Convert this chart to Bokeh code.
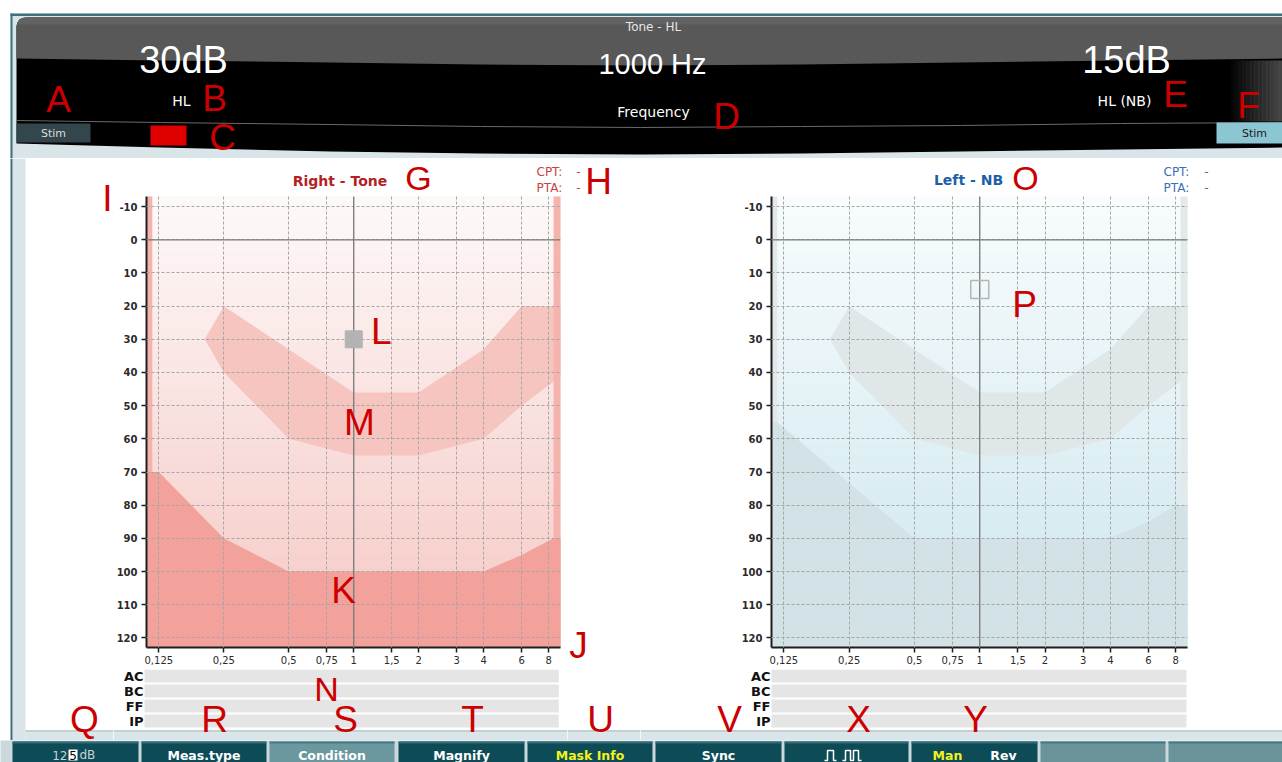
import numpy as np
from bokeh.plotting import figure
from bokeh.models import Range1d, FixedTicker, Span, Label
from bokeh.layouts import row, column
from bokeh.core.properties import value
from bokeh.embed import file_html
from bokeh.resources import INLINE

# ------------------------------------------------------------------ data
freq_ticks = [0.125, 0.25, 0.5, 0.75, 1, 1.5, 2, 3, 4, 6, 8]
freq_tick_labels = ["0,125", "0,25", "0,5", "0,75", "1", "1,5", "2", "3", "4", "6", "8"]
db_ticks = [-10, 0, 10, 20, 30, 40, 50, 60, 70, 80, 90, 100, 110, 120]
db_tick_labels = ["-10", "0", "10", "20", "30", "40", "50", "60", "70", "80", "90", "100", "110", "120"]

right_tone_freq = [1]
right_tone_db = [30]
left_nb_freq = [1]
left_nb_db = [15]

speech_band_freq = [0.204, 0.25, 1, 2, 4, 6, 9.6, 9.6, 6, 4, 2, 1, 0.5, 0.25]
speech_band_db = [30, 20, 46, 46, 33, 20, 20, 40, 50, 60, 65, 65, 60, 40]

right_limit_freq = [0.09, 0.125, 0.25, 0.5, 4, 6, 8.43, 9.6, 9.6, 0.09]
right_limit_db = [70, 70, 90, 100, 100, 95, 90, 90, 130, 130]
left_limit_freq = [0.09, 0.1166, 0.5, 4, 6, 8, 9.6, 9.6, 0.09]
left_limit_db = [55, 55, 90, 90, 85, 80, 80, 130, 130]

low_strip_freq = [0.09, 0.1166]
high_strip_freq = [8.43, 9.6]

level_right_db = 30
tone_freq_hz = 1000
level_left_db = 15

row_labels = ["AC", "BC", "FF", "IP"]
button_labels = ["Meas.type", "Condition", "Magnify", "Mask Info", "Sync"]

# ------------------------------------------------------------------ geometry / style
X0, X1 = 0.1096, 9.076
Y_TOP, Y_BOT = -13.05, 122.9
FW, FH, FTOP = 416, 451, 196
RED = "#cc0000"
LB = "#d9e5e8"
TEAL = "#3b717c"
LETTER_FONT = "Liberation Sans"
UI_FONT = "DejaVu Sans"


def hexcol(rgb):
    return "#%02x%02x%02x" % tuple(int(round(v)) for v in rgb)


def px2f(px, frame_left):
    return X0 * (X1 / X0) ** ((px - frame_left) / FW)


def py2db(py):
    return Y_TOP + (py - FTOP) / FH * (Y_BOT - Y_TOP)


def chrome(x0, x1, y0, y1, bg="white"):
    p = figure(width=x1 - x0, height=y1 - y0, x_range=Range1d(x0, x1), y_range=Range1d(y1, y0),
               x_axis_type=None, y_axis_type=None, toolbar_location=None, output_backend="svg",
               min_border=0, outline_line_color=None, background_fill_color=bg, border_fill_color=bg)
    return p


def letters(p, items, size="37px"):
    p.text(x=[i[1] for i in items], y=[i[2] for i in items], text=[i[0] for i in items],
           text_font=value(LETTER_FONT), text_font_size=size, text_color=RED,
           text_align="center", text_baseline="middle")


def txt(p, x, y, t, size, color, font=UI_FONT, style="normal", align="center"):
    p.text(x=[x], y=[y], text=[t], text_font=value(font), text_font_size=size,
           text_font_style=style, text_color=color, text_align=align, text_baseline="middle")


def bottom_band(p, x0, x1):
    p.quad(left=x0, right=x1, top=729.5, bottom=732, fill_color="#c2d0d3", line_color=None)
    p.quad(left=x0, right=x1, top=732, bottom=740, fill_color=LB, line_color=None)


def in_frame_letter(p, text, px, py, frame_left):
    p.add_layout(Label(x=px2f(px, frame_left), y=py2db(py), x_units="data", y_units="data",
                       text=text, text_font=LETTER_FONT, text_font_size="37px", text_color=RED,
                       text_align="center", text_baseline="middle"))


def audiogram(width, bl, br, bg_top, bg_bot, band_col, strip_col, limit_col, limit_f, limit_db):
    p = figure(width=width, height=473, x_axis_type="log", x_range=Range1d(X0, X1),
               y_range=Range1d(Y_BOT, Y_TOP), min_border_left=bl, min_border_right=br,
               min_border_top=0, min_border_bottom=22, toolbar_location=None,
               output_backend="svg", outline_line_color=None)
    n = 40
    edges = np.linspace(Y_TOP, Y_BOT, n + 1)
    cols = [hexcol([a + (b - a) * (i + 0.5) / n for a, b in zip(bg_top, bg_bot)]) for i in range(n)]
    p.quad(left=X0 * 0.9, right=X1 * 1.1, top=edges[:-1] - 0.3, bottom=edges[1:] + 0.3,
           fill_color=cols, line_color=None)
    p.patch(speech_band_freq, speech_band_db, fill_color=band_col, line_color=None)
    p.quad(left=[low_strip_freq[0], high_strip_freq[0]], right=[low_strip_freq[1], high_strip_freq[1]],
           top=-20, bottom=130, fill_color=strip_col, line_color=None)
    p.patch(limit_f, limit_db, fill_color=limit_col, line_color=None)

    p.xaxis.ticker = FixedTicker(ticks=freq_ticks)
    p.xaxis.major_label_overrides = dict(zip(freq_ticks, freq_tick_labels))
    p.yaxis.ticker = FixedTicker(ticks=db_ticks)
    p.yaxis.major_label_overrides = dict(zip(db_ticks, db_tick_labels))
    p.axis.axis_line_color = "#1e1e1e"
    p.axis.axis_line_width = 2
    p.axis.major_tick_line_color = "#1e1e1e"
    p.axis.major_tick_line_width = 1.5
    p.axis.major_tick_out = 5
    p.axis.major_tick_in = 0
    p.axis.minor_tick_line_color = None
    p.axis.major_label_text_font = UI_FONT
    p.axis.major_label_text_font_size = "10px"
    p.axis.major_label_text_color = "#2b2b2b"
    p.yaxis.major_label_text_font_style = "bold"
    p.yaxis.major_label_standoff = 4
    p.xaxis.major_label_standoff = 3

    p.grid.grid_line_color = "#a6a6a6"
    p.grid.grid_line_dash = "3 2"
    p.grid.grid_line_width = 1
    p.grid.level = "guide"
    p.add_layout(Span(location=0, dimension="width", line_color="#7a7a7a", line_width=1.3))
    p.add_layout(Span(location=1, dimension="height", line_color="#7a7a7a", line_width=1.3))
    return p


# ------------------------------------------------------------------ header (0..1282 x 0..158)
hd = chrome(0, 1282, 0, 158)
hd.quad(left=10, right=1282, top=13, bottom=158, fill_color=LB, line_color=None)
hd.quad(left=10, right=1282, top=13, bottom=15.5, fill_color=TEAL, line_color=None)
hd.quad(left=10, right=12, top=13, bottom=158, fill_color=TEAL, line_color=None)
cx = [16, 160, 330, 480, 640, 800, 960, 1120, 1282]
black_bottom = [143, 147, 151, 153, 154, 153, 151, 149, 147]
grey_bottom = [58, 60, 62, 64, 65, 64, 62, 60, 58]
corner_x = [16, 17, 19, 22, 26]
corner_y = [26, 22, 19, 17.5, 17]
hd.patch(corner_x + [1282] + cx[::-1], corner_y + [17] + black_bottom[::-1],
         fill_color="#000000", line_color=None)
hd.patch(corner_x + [1282] + cx[::-1], corner_y + [17] + grey_bottom[::-1],
         fill_color="#585858", line_color=None)
hd.patch(corner_x + [1282, 1282, 16], corner_y + [17, 24, 24], fill_color="#626262", line_color=None)
fx0 = np.linspace(1226, 1282, 15)
hd.quad(left=fx0[:-1], right=fx0[1:] + 0.5, top=60, bottom=121, fill_color="#555555",
        fill_alpha=np.linspace(0.0, 0.8, 14), line_color=None)
hd.line(cx, [120, 122, 124, 126, 127, 126, 125, 123, 122], line_color="#6a6a6a", line_width=1)
hd.quad(left=16, right=90, top=123, bottom=142, fill_color="#33464b", line_color=None)
hd.quad(left=150, right=186, top=125, bottom=145, fill_color="#e00000", line_color=None)
hd.quad(left=1216, right=1282, top=122, bottom=143, fill_color="#8cc6d2", line_color=None)
txt(hd, 53, 132.5, "Stim", "11px", "#dddddd")
txt(hd, 1254, 132.5, "Stim", "11px", "#1a1a1a")
txt(hd, 653, 26, "Tone - HL", "12px", "#e6e6e6")
txt(hd, 183, 59.5, f"{level_right_db}dB", "38px", "white", font=LETTER_FONT)
txt(hd, 1126, 59.5, f"{level_left_db}dB", "38px", "white", font=LETTER_FONT)
txt(hd, 652, 63, f"{tone_freq_hz} Hz", "29px", "white", font=LETTER_FONT)
txt(hd, 181, 100.5, "HL", "14px", "white")
txt(hd, 653, 111, "Frequency", "14px", "white")
txt(hd, 1124, 100.5, "HL (NB)", "14px", "white")
letters(hd, [("A", 58, 98.5), ("B", 214, 97.5), ("C", 222, 137), ("D", 726, 116),
             ("E", 1175, 93.5), ("F", 1248, 105)])

# ------------------------------------------------------------------ left panel pieces
lcol = chrome(0, 113, 158, 740)
lcol.quad(left=12, right=25, top=158, bottom=740, fill_color=LB, line_color=None)
lcol.quad(left=10, right=12, top=158, bottom=740, fill_color=TEAL, line_color=None)
bottom_band(lcol, 25, 113)
letters(lcol, [("I", 107, 198), ("Q", 84, 719)])

topL = chrome(113, 567, 158, 196)
txt(topL, 339.5, 180, "Right - Tone", "14px", "#b31f24", style="bold")
txt(topL, 536, 171, "CPT:", "12px", "#c44444", align="left")
txt(topL, 536, 187, "PTA:", "12px", "#c44444", align="left")
letters(topL, [("G", 418, 177)], size="34px")

audL = audiogram(454, 31, 7, (253, 249, 249), (245, 200, 195), "#f6c5c0", "#f5b3ad", "#f2a29b",
                 right_limit_freq, right_limit_db)
sqL = audL.scatter(right_tone_freq, right_tone_db, marker="square", size=17,
                   fill_color="#b3b3b3", line_color="#b3b3b3")
sqL.level = "overlay"
for t, x, y in [("K", 342, 590), ("L", 380, 331), ("M", 358, 422)]:
    in_frame_letter(audL, t, x, y, 144)


def rows_fig(x0, x1, bar_l, bar_r, lab_x, marks):
    p = chrome(x0, x1, 669, 740)
    bottom_band(p, x0, x1)
    ys = [675.5 + 15 * i for i in range(len(row_labels))]
    p.hbar(y=ys, left=bar_l, right=bar_r, height=13, fill_color="#e5e5e5", line_color=None)
    p.text(x=lab_x, y=ys, text=row_labels, text_font=value(UI_FONT), text_font_size="13px",
           text_font_style="bold", text_color="#111111", text_align="right", text_baseline="middle")
    letters(p, marks)
    return p


barsL = rows_fig(113, 567, 144, 558.3, 143,
                 [("R", 214, 719), ("S", 345, 719), ("T", 472, 719)])
letters(barsL, [("N", 326, 688.5)], size="34px")

rcolL = chrome(567, 640, 158, 740)
bottom_band(rcolL, 567, 640)
txt(rcolL, 578, 171, "-", "12px", "#c44444")
txt(rcolL, 578, 187, "-", "12px", "#c44444")
letters(rcolL, [("H", 598, 181), ("J", 578, 645), ("U", 600, 719)])

# ------------------------------------------------------------------ right panel pieces
topR = chrome(640, 1282, 158, 196)
txt(topR, 968, 179, "Left - NB", "14px", "#1c5fa8", style="bold")
txt(topR, 1163, 171, "CPT:", "12px", "#3a6fb5", align="left")
txt(topR, 1163, 187, "PTA:", "12px", "#3a6fb5", align="left")
txt(topR, 1206, 171, "-", "12px", "#3a6fb5")
txt(topR, 1206, 187, "-", "12px", "#3a6fb5")
letters(topR, [("O", 1025, 177)], size="34px")

audR = audiogram(642, 131, 95, (248, 252, 253), (204, 230, 238), "#e0e7e9", "#e3e9eb", "#d3e2e6",
                 left_limit_freq, left_limit_db)
sqR = audR.scatter(left_nb_freq, left_nb_db, marker="square", size=18, fill_color=None,
                   line_color="#b5b5b5", line_width=1.5)
sqR.level = "overlay"
in_frame_letter(audR, "P", 1024, 304, 771)

barsR = rows_fig(640, 1282, 771, 1186, 770, [("V", 729, 719), ("X", 858, 719), ("Y", 975, 719)])

# ------------------------------------------------------------------ button bar (740..762)
ft = chrome(0, 1282, 740, 762, bg="#cbd9dc")
b_l = [12, 141, 269, 398, 527, 655, 784, 911, 1040, 1168]
b_r = [138, 266, 394, 524, 652, 781, 908, 1037, 1165, 1282]
b_c = ["#0d4b57", "#0d4b57", "#6b979e", "#0d4b57", "#0d4b57", "#0d4b57", "#0d4b57", "#0d4b57",
       "#6a939a", "#6a939a"]
ft.quad(left=b_l, right=b_r, top=741, bottom=763, fill_color=b_c, line_color=None)
ft.quad(left=b_l, right=b_r, top=741, bottom=743, fill_color="#3d7480", fill_alpha=0.8, line_color=None)
txt(ft, 67, 754.5, "12", "12px", "#c9d3d5", align="right")
ft.quad(left=68, right=77, top=749, bottom=760, fill_color="white", line_color=None)
txt(ft, 72.5, 754.5, "5", "12px", "black")
txt(ft, 79, 754.5, "dB", "12px", "#c9d3d5", align="left")
ft.text(x=[203.5, 331.5, 461, 589.5, 718], y=[754.5] * 5, text=button_labels,
        text_font=value(UI_FONT), text_font_size="12.5px", text_font_style="bold",
        text_color=["white", "white", "white", "#f2f21c", "white"],
        text_align="center", text_baseline="middle")
ft.text(x=[947, 1003], y=[754.5, 754.5], text=["Man", "Rev"], text_font=value(UI_FONT),
        text_font_size="12.5px", text_font_style="bold", text_color=["#f2f21c", "white"],
        text_align="center", text_baseline="middle")
ft.multi_line(xs=[[824, 827, 827, 833, 833, 836],
                  [842, 845, 845, 850, 850, 853, 853, 858, 858, 861]],
              ys=[[760, 760, 750, 750, 760, 760],
                  [760, 760, 750, 750, 760, 760, 750, 750, 760, 760]],
              line_color="white", line_width=1.5)

# each strip figure is wrapped in its own row so that it is not frame-aligned with the audiogram
left_half = row(lcol, column(row(topL), audL, row(barsL)), rcolL)
right_half = column(row(topR), audR, row(barsR))
layout = column(hd, row(left_half, right_half), ft)

with open("out.html", "w") as f:
    f.write(file_html(layout, INLINE))
